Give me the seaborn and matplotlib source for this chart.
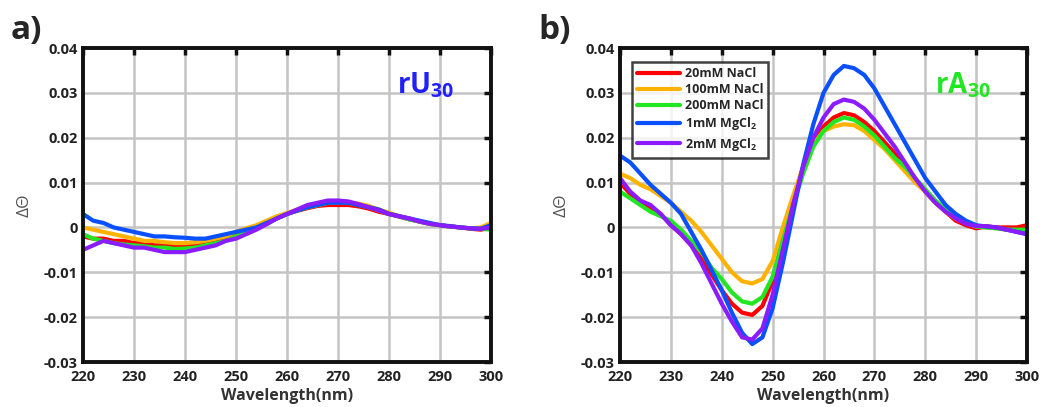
import numpy as np
import pandas as pd
import matplotlib
matplotlib.use("Agg")
import matplotlib.pyplot as plt
import seaborn as sns

wavelength = list(range(220, 301, 2))

conditions = ["20mM NaCl", "100mM NaCl", "200mM NaCl", r"1mM MgCl$_\mathbf{2}$", r"2mM MgCl$_\mathbf{2}$"]
colors = ["#ff0000", "#ffb300", "#22e622", "#0a50ff", "#8a1cff"]

# Panel a: rU30
rU_20NaCl = [-0.002, -0.0025, -0.0025, -0.003, -0.003, -0.0035, -0.0035, -0.004, -0.004, -0.004, -0.004,
             -0.004, -0.0035, -0.003, -0.0025, -0.0015, -0.0008, 0.0, 0.001, 0.002, 0.003, 0.0037, 0.0043,
             0.0048, 0.005, 0.005, 0.005, 0.0047, 0.0042, 0.0035, 0.003, 0.0024, 0.0018, 0.0013, 0.0008,
             0.0005, 0.0002, 0.0, -0.0003, -0.0005, 0.0]
rU_100NaCl = [0.0, -0.0005, -0.001, -0.0015, -0.002, -0.0025, -0.003, -0.003, -0.0033, -0.0035, -0.0035,
              -0.0033, -0.003, -0.0025, -0.002, -0.001, -0.0002, 0.0005, 0.0015, 0.0025, 0.0032, 0.004,
              0.0045, 0.005, 0.0055, 0.0055, 0.0055, 0.0053, 0.0048, 0.004, 0.0033, 0.0025, 0.002, 0.0013,
              0.0008, 0.0005, 0.0002, 0.0, -0.0002, 0.0, 0.001]
rU_200NaCl = [-0.0015, -0.0025, -0.003, -0.0035, -0.0038, -0.004, -0.0042, -0.0045, -0.0045, -0.0048,
              -0.0047, -0.0045, -0.004, -0.0035, -0.003, -0.002, -0.0012, -0.0003, 0.0008, 0.002, 0.003,
              0.0038, 0.0045, 0.005, 0.0055, 0.0057, 0.0055, 0.005, 0.0045, 0.0038, 0.003, 0.0025, 0.0018,
              0.0013, 0.0008, 0.0005, 0.0002, 0.0, -0.0002, -0.0003, -0.0005]
rU_1MgCl2 = [0.003, 0.0015, 0.001, 0.0, -0.0005, -0.001, -0.0015, -0.002, -0.002, -0.0022, -0.0023,
             -0.0025, -0.0025, -0.002, -0.0015, -0.001, -0.0005, 0.0, 0.001, 0.002, 0.003, 0.0038, 0.0045,
             0.005, 0.0055, 0.0055, 0.0055, 0.005, 0.0045, 0.004, 0.003, 0.0025, 0.002, 0.0015, 0.001,
             0.0005, 0.0003, 0.0, -0.0002, -0.0003, 0.0005]
rU_2MgCl2 = [-0.005, -0.004, -0.003, -0.0035, -0.004, -0.0045, -0.0045, -0.005, -0.0055, -0.0055, -0.0055,
             -0.005, -0.0045, -0.004, -0.003, -0.0025, -0.0015, -0.0005, 0.0007, 0.002, 0.003, 0.004, 0.005,
             0.0055, 0.006, 0.006, 0.0058, 0.0052, 0.0045, 0.0038, 0.003, 0.0025, 0.002, 0.0013, 0.0008,
             0.0005, 0.0002, 0.0, -0.0002, -0.0003, 0.0]

# Panel b: rA30
rA_20NaCl = [0.010, 0.0075, 0.0055, 0.0045, 0.003, 0.0005, -0.0015, -0.004, -0.007, -0.0105, -0.014,
             -0.017, -0.019, -0.0195, -0.0175, -0.012, -0.003, 0.006, 0.0135, 0.019, 0.0225, 0.0245, 0.0255,
             0.025, 0.0235, 0.0215, 0.019, 0.0165, 0.014, 0.011, 0.008, 0.0055, 0.0035, 0.0015, 0.0005,
             -0.0002, 0.0002, 0.0, 0.0, 0.0, 0.0005]
rA_100NaCl = [0.012, 0.011, 0.0095, 0.0085, 0.007, 0.0055, 0.0035, 0.0015, -0.001, -0.004, -0.007, -0.010,
              -0.012, -0.0125, -0.0115, -0.0075, 0.0, 0.007, 0.0135, 0.0185, 0.0215, 0.0225, 0.023, 0.0228,
              0.0215, 0.0195, 0.0175, 0.015, 0.0125, 0.010, 0.008, 0.0055, 0.0035, 0.002, 0.001, 0.0002,
              0.0, -0.0002, -0.0005, -0.0008, -0.001]
rA_200NaCl = [0.008, 0.0065, 0.005, 0.0035, 0.0025, 0.0015, -0.0005, -0.003, -0.0055, -0.009, -0.0115,
              -0.0145, -0.0165, -0.017, -0.0155, -0.011, -0.003, 0.005, 0.012, 0.018, 0.0215, 0.0235, 0.0245,
              0.024, 0.0225, 0.0205, 0.018, 0.0155, 0.0135, 0.011, 0.0085, 0.006, 0.004, 0.0025, 0.001,
              0.0002, 0.0, -0.0002, -0.0005, -0.0005, -0.0005]
rA_1MgCl2 = [0.016, 0.0145, 0.012, 0.0095, 0.0075, 0.0055, 0.003, -0.001, -0.005, -0.0095, -0.014, -0.019,
             -0.0235, -0.026, -0.0245, -0.018, -0.008, 0.003, 0.014, 0.023, 0.030, 0.034, 0.036, 0.0355,
             0.034, 0.031, 0.027, 0.023, 0.019, 0.015, 0.011, 0.008, 0.005, 0.003, 0.0015, 0.0005, 0.0002,
             0.0, -0.0005, -0.001, -0.0015]
rA_2MgCl2 = [0.011, 0.008, 0.006, 0.005, 0.003, 0.0005, -0.0015, -0.004, -0.008, -0.0125, -0.017, -0.021,
             -0.0245, -0.025, -0.0225, -0.015, -0.005, 0.005, 0.0135, 0.020, 0.0245, 0.0275, 0.0285, 0.028,
             0.0265, 0.024, 0.021, 0.018, 0.0145, 0.011, 0.008, 0.0055, 0.0035, 0.002, 0.0008, 0.0003,
             0.0003, 0.0, -0.0005, -0.001, -0.0015]

x_ticks = [220, 230, 240, 250, 260, 270, 280, 290, 300]
y_ticks = [-0.03, -0.02, -0.01, 0, 0.01, 0.02, 0.03, 0.04]
y_ticklabels = ["-0.03", "-0.02", "-0.01", "0", "0.01", "0.02", "0.03", "0.04"]


def long_frame(series_list):
    rows = []
    for cond, vals in zip(conditions, series_list):
        for w, v in zip(wavelength, vals):
            rows.append({"Wavelength": w, "Signal": v, "Condition": cond})
    return pd.DataFrame(rows)


sns.set_theme(style="white")
plt.rcParams["font.family"] = ["Open Sans", "DejaVu Sans"]
plt.rcParams["mathtext.fontset"] = "custom"
plt.rcParams["mathtext.bf"] = "Open Sans:bold"
plt.rcParams["mathtext.rm"] = "Open Sans"

fig = plt.figure(figsize=(10.4, 4.07), dpi=100)
ax_a = fig.add_axes([83 / 1040, 45 / 407, 408 / 1040, 314 / 407])
ax_b = fig.add_axes([620 / 1040, 45 / 407, 407 / 1040, 314 / 407])

palette = dict(zip(conditions, colors))

for ax, data, title, tcolor, show_legend in [
    (ax_a, [rU_20NaCl, rU_100NaCl, rU_200NaCl, rU_1MgCl2, rU_2MgCl2], "rU$_{\\mathbf{30}}$", "#1f1fff", False),
    (ax_b, [rA_20NaCl, rA_100NaCl, rA_200NaCl, rA_1MgCl2, rA_2MgCl2], "rA$_{\\mathbf{30}}$", "#22e622", True),
]:
    df = long_frame(data)
    sns.lineplot(data=df, x="Wavelength", y="Signal", hue="Condition", palette=palette,
                 hue_order=conditions, linewidth=3.0, ax=ax, legend=show_legend)
    ax.set_xlim(220, 300)
    ax.set_ylim(-0.03, 0.04)
    ax.set_xticks(x_ticks)
    ax.set_xticklabels([str(t) for t in x_ticks], fontweight="bold", fontsize=10.5, color="#222222")
    ax.set_yticks(y_ticks)
    ax.set_yticklabels(y_ticklabels, fontweight="bold", fontsize=10.5, color="#222222")
    ax.grid(True, color="#c4c4c4", linewidth=1.8)
    ax.set_axisbelow(True)
    for sp in ax.spines.values():
        sp.set_visible(True)
        sp.set_color("#111111")
        sp.set_linewidth(2.8)
    ax.tick_params(direction="in", length=5, width=2.5, top=True, right=True, color="#111111")
    ax.tick_params(axis="x", pad=6)
    ax.tick_params(axis="y", pad=4)
    ax.set_xlabel("Wavelength(nm)", fontweight="bold", fontsize=11.5, color="#333333", labelpad=3)
    ax.set_ylabel("ΔΘ", fontsize=12.5, color="#555555", labelpad=8)
    ax.text(0.91, 0.93, title, transform=ax.transAxes, ha="right", va="top",
            fontsize=20, fontweight="bold", color=tcolor)
    if show_legend:
        leg = ax.legend(loc="upper left", bbox_to_anchor=(0.015, 0.975), frameon=True,
                        fancybox=False, edgecolor="#111111", fontsize=9, handlelength=3.4,
                        borderpad=0.4, labelspacing=0.25, handletextpad=0.4)
        leg.get_frame().set_linewidth(1.8)
        for t in leg.get_texts():
            t.set_fontweight("bold")
        for line in leg.get_lines():
            line.set_linewidth(3.0)

fig.text(0.010, 0.965, "a)", fontsize=24, fontweight="bold", va="top", ha="left")
fig.text(0.518, 0.965, "b)", fontsize=24, fontweight="bold", va="top", ha="left")

fig.savefig("out.png", dpi=100)
